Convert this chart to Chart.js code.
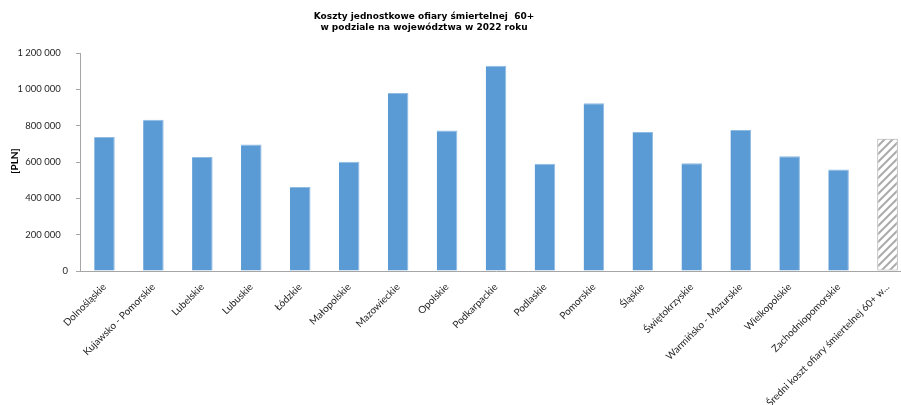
<!DOCTYPE html>
<html>
<head>
<meta charset="utf-8">
<script src="https://cdn.jsdelivr.net/npm/chart.js@4"></script>
<style>
  html, body { margin: 0; padding: 0; background: #fff; overflow: hidden; }
  #wrap { width: 912px; height: 405px; }
</style>
</head>
<body>
<div id="wrap"><canvas id="c" width="912" height="405"></canvas></div>
<script>
// Unit cost of a fatal casualty aged 60+, by voivodeship, 2022 [PLN]
const regions = [
  'Dolnośląskie', 'Kujawsko - Pomorskie', 'Lubelskie', 'Lubuskie', 'Łódzkie',
  'Małopolskie', 'Mazowieckie', 'Opolskie', 'Podkarpackie', 'Podlaskie',
  'Pomorskie', 'Śląskie', 'Świętokrzyskie', 'Warmińsko - Mazurskie',
  'Wielkopolskie', 'Zachodniopomorskie', 'Średni koszt ofiary śmiertelnej 60+ w...'
];
const costs = [
  737000, 833000, 627000, 697000, 462000,
  601000, 980000, 774000, 1130000, 590000,
  923000, 765000, 593000, 776000,
  632000, 559000, 728000
];
const yTicks = [0, 200000, 400000, 600000, 800000, 1000000, 1200000];
const titleLines = ['Koszty jednostkowe ofiary śmiertelnej  60+', 'w podziale na województwa w 2022 roku'];
const yAxisTitle = '[PLN]';

// diagonal hatch for the national average bar
function hatchPattern() {
  const p = document.createElement('canvas');
  p.width = 8; p.height = 8;
  const g = p.getContext('2d');
  g.fillStyle = '#ffffff';
  g.fillRect(0, 0, 8, 8);
  g.strokeStyle = '#ababab';
  g.lineWidth = 2;
  g.beginPath();
  g.moveTo(-1, 9); g.lineTo(9, -1);
  g.moveTo(-5, 5); g.lineTo(5, -5);
  g.moveTo(3, 13); g.lineTo(13, 3);
  g.stroke();
  return g.createPattern(p, 'repeat');
}

const blue = '#5b9bd5';
const last = regions.length - 1;
const fills = regions.map((r, i) => i === last ? hatchPattern() : blue);
const borders = regions.map((r, i) => i === last ? '#ababab' : '#8fbbe3');
const borderWidths = regions.map((r, i) => i === last ? 1 : { top: 1, right: 1, left: 0, bottom: 0 });

// "1 200 000" style with a trailing gap, as the number format leaves it
const fmt = v => v === 0 ? '0' : String(v).replace(/\B(?=(\d{3})+(?!\d))/g, ' ') + '\u2002 ';

const titles = {
  id: 'titles',
  afterDraw(chart) {
    const ctx = chart.ctx;
    ctx.save();
    ctx.fillStyle = '#000';
    ctx.textAlign = 'center';
    ctx.textBaseline = 'middle';
    ctx.font = 'bold 9px "DejaVu Sans"';
    ctx.fillText(titleLines[0], 424, 17);
    ctx.fillText(titleLines[1], 424, 28);
    ctx.translate(15, 161);
    ctx.rotate(-Math.PI / 2);
    ctx.font = 'bold 10px Lato';
    ctx.fillText(yAxisTitle, 0, 0);
    ctx.restore();
  }
};

new Chart(document.getElementById('c'), {
  type: 'bar',
  data: {
    labels: regions,
    datasets: [{
      data: costs,
      backgroundColor: fills,
      borderColor: borders,
      borderWidth: borderWidths,
      borderSkipped: false,
      barPercentage: 0.42,
      categoryPercentage: 1.0
    }]
  },
  options: {
    responsive: false,
    animation: false,
    layout: { padding: { top: 53, right: 0, left: 0, bottom: 0 } },
    plugins: { legend: { display: false }, tooltip: { enabled: false } },
    scales: {
      x: {
        grid: { display: false },
        border: { display: true, color: '#a6a6a6', width: 1 },
        ticks: {
          autoSkip: false, maxRotation: 45, minRotation: 45,
          color: '#262626', font: { family: 'Lato', size: 10 }, padding: 2
        },
        afterFit(s) { s.height = 134; }
      },
      y: {
        min: 0, max: 1200000,
        afterBuildTicks(s) { s.ticks = yTicks.map(v => ({ value: v })); },
        grid: { drawOnChartArea: false, drawTicks: true, tickLength: 4, color: '#a6a6a6' },
        border: { display: true, color: '#a6a6a6', width: 1 },
        ticks: {
          color: '#262626', font: { family: 'Lato', size: 9.5 }, padding: 8,
          callback: v => fmt(v)
        },
        afterFit(s) { s.width = 80; }
      }
    }
  },
  plugins: [titles]
});
</script>
</body>
</html>
